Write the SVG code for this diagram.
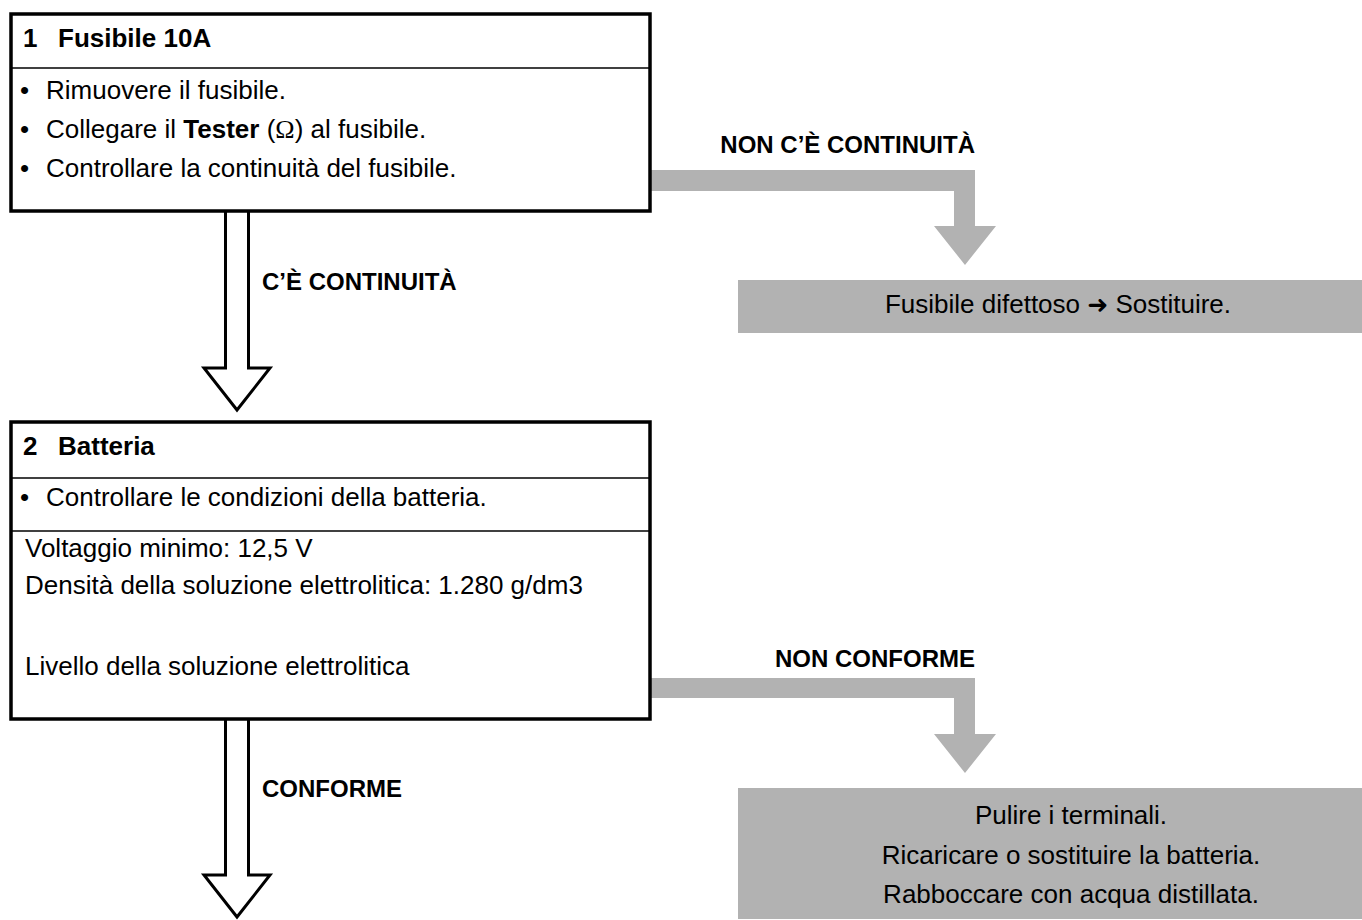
<svg xmlns="http://www.w3.org/2000/svg" width="1362" height="920" viewBox="0 0 1362 920">
  <style>
    text { font-family: "Liberation Sans", Arial, Helvetica, sans-serif; fill: #000; }
    .body { font-size: 26px; }
    .head { font-size: 26px; font-weight: bold; }
    .label { font-size: 24px; font-weight: bold; }
    .frame { fill: #fff; stroke: #000; stroke-width: 3.5; }
    .rule { stroke: #000; stroke-width: 1.5; }
    .gray { fill: #b2b2b2; }
    .hollow { fill: #fff; stroke: #000; stroke-width: 3; stroke-linejoin: miter; }
    .omega { font-family: "Liberation Serif", "Times New Roman", serif; }
    .sym { font-family: "DejaVu Sans", sans-serif; font-size: 25px; font-weight: bold; }
  </style>

  <!-- connectors -->
  <g id="connectors">
    <!-- step 1 -> step 2 (pass) -->
    <path class="hollow" d="M225.5,211 V368 H204 L237,410 L270,368 H248.5 V211"/>
    <text class="label" x="262" y="290">C’È CONTINUITÀ</text>
    <!-- step 1 -> fuse fault -->
    <path class="gray" d="M650,170 H975 V226 H996 L965,265 L934,226 H954 V191 H650 Z"/>
    <text class="label" x="975" y="153" text-anchor="end">NON C’È CONTINUITÀ</text>
    <!-- step 2 -> onward (pass) -->
    <path class="hollow" d="M225.5,719 V875 H204 L237,917 L270,875 H248.5 V719"/>
    <text class="label" x="262" y="797">CONFORME</text>
    <!-- step 2 -> battery fault -->
    <path class="gray" d="M650,678 H975 V734 H996 L965,773 L934,734 H954 V698 H650 Z"/>
    <text class="label" x="975" y="667" text-anchor="end">NON CONFORME</text>
  </g>

  <!-- step 1: fuse -->
  <g id="step1">
    <rect class="frame" x="11" y="14" width="639" height="197"/>
    <line class="rule" x1="11" y1="68" x2="650" y2="68"/>
    <text class="head" x="23" y="47">1</text>
    <text class="head" x="58" y="47">Fusibile 10A</text>
    <text class="body" x="20" y="99">•</text>
    <text class="body" x="46" y="99">Rimuovere il fusibile.</text>
    <text class="body" x="20" y="138">•</text>
    <text class="body" x="46" y="138">Collegare il <tspan font-weight="bold">Tester</tspan> (<tspan class="omega">Ω</tspan>) al fusibile.</text>
    <text class="body" x="20" y="177">•</text>
    <text class="body" x="46" y="177">Controllare la continuità del fusibile.</text>
  </g>

  <!-- fuse fault result -->
  <g id="fuse-fault">
    <rect class="gray" x="738" y="280" width="624" height="53"/>
    <text class="body" x="1058" y="313" text-anchor="middle">Fusibile difettoso <tspan class="sym">➜</tspan> Sostituire.</text>
  </g>

  <!-- step 2: battery -->
  <g id="step2">
    <rect class="frame" x="11" y="422" width="639" height="297"/>
    <line class="rule" x1="11" y1="478" x2="650" y2="478"/>
    <line class="rule" x1="11" y1="531" x2="650" y2="531"/>
    <text class="head" x="23" y="455">2</text>
    <text class="head" x="58" y="455">Batteria</text>
    <text class="body" x="20" y="506">•</text>
    <text class="body" x="46" y="506">Controllare le condizioni della batteria.</text>
    <text class="body" x="25" y="557">Voltaggio minimo: 12,5 V</text>
    <text class="body" x="25" y="594">Densità della soluzione elettrolitica: 1.280 g/dm3</text>
    <text class="body" x="25" y="675">Livello della soluzione elettrolitica</text>
  </g>

  <!-- battery fault result -->
  <g id="battery-fault">
    <rect class="gray" x="738" y="788" width="624" height="131"/>
    <text class="body" x="1071" y="824" text-anchor="middle">Pulire i terminali.</text>
    <text class="body" x="1071" y="864" text-anchor="middle">Ricaricare o sostituire la batteria.</text>
    <text class="body" x="1071" y="903" text-anchor="middle">Rabboccare con acqua distillata.</text>
  </g>
</svg>
